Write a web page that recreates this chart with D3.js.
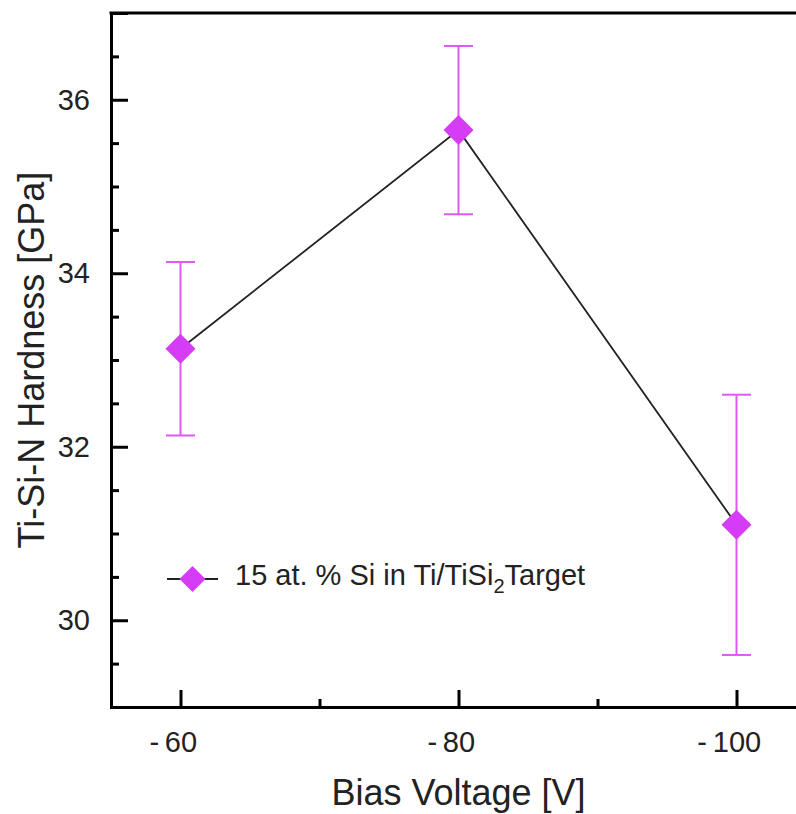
<!DOCTYPE html>
<html>
<head>
<meta charset="utf-8">
<script src="https://cdn.jsdelivr.net/npm/d3@7"></script>
<style>
    body { margin: 0; background: #fff; }
    svg { display: block; font-family: "Liberation Sans", Arial, sans-serif; }
</style>
</head>
<body>
<div id="chart"></div>
<script>
// values
const biasVoltage = [-60, -80, -100];
const hardness = [33.13, 35.65, 31.1];
const hardnessErr = [1.0, 0.97, 1.5];

const xMajorTicks = [-60, -80, -100];
const xMinorTicks = [-70, -90];
const yMajorTicks = [30, 32, 34, 36];
const yMinorTicks = [29.5, 30.5, 31, 31.5, 32.5, 33, 33.5, 34.5, 35, 35.5, 36.5];

const legendLabel = '15 at. % Si in Ti/TiSi';
const legendSub = '2';
const legendTail = 'Target';

const width = 796;
const height = 814;
const margin = { top: 13, right: -10, bottom: 107, left: 111 };

const markerColor = '#d63cf5';
const errColor = '#dc5af2';
const tickFont = 29;

const svg = d3.select('#chart')
    .append('svg')
    .attr('width', width)
    .attr('height', height);

const xScale = d3.scaleLinear()
    .domain([-55, -105])
    .range([margin.left, width - margin.right]);

const yScale = d3.scaleLinear()
    .domain([29, 37])
    .range([height - margin.bottom, margin.top]);

const points = biasVoltage.map((v, i) => ({
    v: v,
    h: hardness[i],
    err: hardnessErr[i]
}));

// axes: ticks point inward
svg.append('g')
    .attr('transform', `translate(${margin.left}, 0)`)
    .call(d3.axisLeft(yScale).tickValues(yMajorTicks).tickSize(-17).tickPadding(21).tickFormat(d3.format('d')));

svg.append('g')
    .attr('transform', `translate(${margin.left}, 0)`)
    .call(d3.axisLeft(yScale).tickValues(yMinorTicks).tickSize(-8).tickFormat(''))
    .select('.domain').remove();

const xAxis = svg.append('g')
    .attr('transform', `translate(0, ${height - margin.bottom})`)
    .call(d3.axisBottom(xScale).tickValues(xMajorTicks).tickSize(-17).tickPadding(24)
        .tickFormat(d => '-\u2009' + Math.abs(d)));

svg.append('g')
    .attr('transform', `translate(0, ${height - margin.bottom})`)
    .call(d3.axisBottom(xScale).tickValues(xMinorTicks).tickSize(-8).tickFormat(''))
    .select('.domain').remove();

svg.selectAll('.tick line')
    .attr('stroke', '#000')
    .attr('stroke-width', 3);
svg.selectAll('.domain')
    .attr('stroke', '#000')
    .attr('stroke-width', 3);
svg.selectAll('.tick text')
    .attr('fill', '#222')
    .style('font-size', tickFont + 'px')
    .style('font-family', '"Liberation Sans", Arial, sans-serif');

// x labels: digits centred on tick, minus hangs to the left
xAxis.selectAll('.tick text')
    .attr('text-anchor', 'end')
    .attr('x', d => String(Math.abs(d)).length * 0.278 * tickFont);

// top frame line
svg.append('line')
    .attr('x1', margin.left - 1.5)
    .attr('x2', width + 10)
    .attr('y1', yScale(37))
    .attr('y2', yScale(37))
    .attr('stroke', '#000')
    .attr('stroke-width', 3);

// axis titles
svg.append('text')
    .attr('x', (xScale(-55) + xScale(-105)) / 2)
    .attr('y', 805)
    .attr('text-anchor', 'middle')
    .attr('fill', '#222')
    .style('font-size', '36px')
    .text('Bias Voltage [V]');

svg.append('text')
    .attr('transform', `translate(44, ${(yScale(29) + yScale(37)) / 2}) rotate(-90)`)
    .attr('text-anchor', 'middle')
    .attr('fill', '#222')
    .style('font-size', '36px')
    .text('Ti-Si-N Hardness [GPa]');

// connecting line
const line = d3.line()
    .x(d => xScale(d.v))
    .y(d => yScale(d.h));

svg.append('path')
    .datum(points)
    .attr('fill', 'none')
    .attr('stroke', '#222')
    .attr('stroke-width', 1.8)
    .attr('d', line);

// error bars
const errG = svg.append('g')
    .attr('stroke', errColor)
    .attr('stroke-width', 2);

errG.selectAll('.err')
    .data(points)
    .enter().append('line')
    .attr('x1', d => xScale(d.v))
    .attr('x2', d => xScale(d.v))
    .attr('y1', d => yScale(d.h + d.err))
    .attr('y2', d => yScale(d.h - d.err));

errG.selectAll('.capTop')
    .data(points)
    .enter().append('line')
    .attr('x1', d => xScale(d.v) - 14.5)
    .attr('x2', d => xScale(d.v) + 14.5)
    .attr('y1', d => yScale(d.h + d.err))
    .attr('y2', d => yScale(d.h + d.err));

errG.selectAll('.capBot')
    .data(points)
    .enter().append('line')
    .attr('x1', d => xScale(d.v) - 14.5)
    .attr('x2', d => xScale(d.v) + 14.5)
    .attr('y1', d => yScale(d.h - d.err))
    .attr('y2', d => yScale(d.h - d.err));

// diamond markers (square turned 45 degrees)
const diamond = d3.symbol().type(d3.symbolSquare).size(450);

svg.selectAll('.dot')
    .data(points)
    .enter().append('path')
    .attr('class', 'dot')
    .attr('d', diamond)
    .attr('transform', d => `translate(${xScale(d.v)}, ${yScale(d.h)}) rotate(45)`)
    .attr('fill', markerColor);

// legend
const legend = svg.append('g')
    .attr('transform', 'translate(167, 579)');

legend.append('line')
    .attr('x1', 0)
    .attr('x2', 51)
    .attr('stroke', '#222')
    .attr('stroke-width', 1.8);

legend.append('path')
    .attr('d', d3.symbol().type(d3.symbolSquare).size(340)())
    .attr('transform', 'translate(25.5, 0) rotate(45)')
    .attr('fill', markerColor);

const legendText = legend.append('text')
    .attr('x', 68)
    .attr('y', 6)
    .attr('fill', '#222')
    .style('font-size', '29px');

legendText.append('tspan').text(legendLabel);
legendText.append('tspan')
    .attr('dy', 8)
    .style('font-size', '20px')
    .text(legendSub);
legendText.append('tspan')
    .attr('dy', -8)
    .text(legendTail);
</script>
</body>
</html>
